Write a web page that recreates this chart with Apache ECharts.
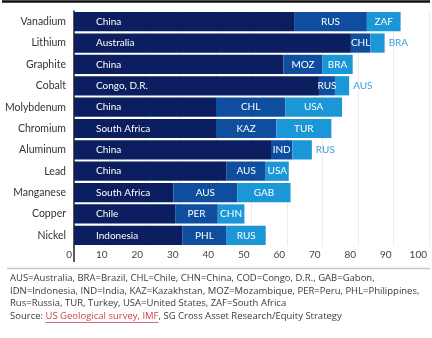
<!DOCTYPE html>
<html>
<head>
<meta charset="utf-8">
<script src="https://cdn.jsdelivr.net/npm/echarts@6/dist/echarts.min.js"></script>
<style>
html,body{margin:0;padding:0;background:#fff;}
#c{width:432px;height:338px;}
</style>
</head>
<body>
<div id="c"></div>
<script>
var categories = ['Vanadium','Lithium','Graphite','Cobalt','Molybdenum','Chromium','Aluminum','Lead','Manganese','Copper','Nickel'];
var topProducer = ['China','Australia','China','Congo, D.R.','China','South Africa','China','China','South Africa','Chile','Indonesia'];
var topShare = [62, 78, 59, 69, 40, 40, 55.5, 43, 28, 28.5, 30.5];
var secondProducer = ['RUS','CHL','MOZ','RUS','CHL','KAZ','IND','AUS','AUS','PER','PHL'];
var secondShare = [20.5, 5.5, 11, 4.5, 19.5, 17, 6, 11, 18, 12, 12.5];
var thirdProducer = ['ZAF','BRA','BRA','AUS','USA','TUR','RUS','USA','GAB','CHN','RUS'];
var thirdShare = [9.5, 4, 8.5, 4, 16, 15.5, 5.5, 6.5, 15, 7.5, 11];
var xTicks = [0,10,20,30,40,50,60,70,80,90,100];
var footLines = [
  'AUS=Australia, BRA=Brazil, CHL=Chile, CHN=China, COD=Congo, D.R., GAB=Gabon,',
  'IDN=Indonesia, IND=India, KAZ=Kazakhstan, MOZ=Mozambique, PER=Peru, PHL=Philippines,',
  'Rus=Russia, TUR, Turkey, USA=United States, ZAF=South Africa'
];
var sourcePre = 'Source: ';
var sourceLink = 'US Geological survey, IMF';
var sourcePost = ', SG Cross Asset Research/Equity Strategy';

var chart = echarts.init(document.getElementById('c'));
var labelFont = 'Lato';
var footFont = '"Open Sans"';
var footSize = 9.5;

function mkData(vals, names, s) {
  return vals.map(function(v, i){
    var item = {value: v, name: names[i]};
    if (s === 3 && v < 6) {
      item.label = {position: 'right', distance: 4, color: '#3a9fdc'};
    }
    return item;
  });
}

var cv = document.createElement('canvas').getContext('2d');
cv.font = footSize + 'px ' + footFont;
var wPre = cv.measureText(sourcePre).width;
var wLink = cv.measureText(sourceLink).width;

var footX = 10, footY0 = 273.5, footLH = 12.5;
var graphics = [
  {type:'line', shape:{x1:2,y1:1.5,x2:430,y2:1.5}, style:{stroke:'#111', lineWidth:2.5}},
  {type:'line', shape:{x1:7,y1:268.5,x2:430,y2:268.5}, style:{stroke:'#c8c8c8', lineWidth:1.5}},
  {type:'line', shape:{x1:74,y1:246,x2:74,y2:262}, style:{stroke:'#222', lineWidth:1.5}}
];
footLines.forEach(function(t, i){
  graphics.push({type:'text', left: footX, top: footY0 + i*footLH,
    style:{text:t, font: footSize+'px '+footFont, fill:'#3a3a3a'}});
});
var sy = footY0 + 3*footLH;
graphics.push({type:'text', left: footX, top: sy, style:{text:sourcePre, font: footSize+'px '+footFont, fill:'#3a3a3a'}});
graphics.push({type:'text', left: footX + wPre, top: sy, style:{text:sourceLink, font: footSize+'px '+footFont, fill:'#c8454f'}});
graphics.push({type:'line', shape:{x1:footX + wPre, y1: sy+11.5, x2: footX + wPre + wLink, y2: sy+11.5}, style:{stroke:'#c8454f', lineWidth:0.8}});
graphics.push({type:'text', left: footX + wPre + wLink, top: sy, style:{text:sourcePost, font: footSize+'px '+footFont, fill:'#3a3a3a'}});

chart.setOption({
  animation: false,
  backgroundColor: '#fff',
  grid: {left: 74, right: 3, top: 11, bottom: 92, containLabel: false},
  xAxis: {
    type: 'value', min: 0, max: 100, interval: 10,
    axisLine: {show: false}, axisTick: {show: false},
    splitLine: {show: true, lineStyle: {color: '#ececec', width: 1}},
    axisLabel: {
      color: '#444', fontSize: 10, fontFamily: labelFont, margin: 4,
      align: 'right', padding: [0, 2, 0, 0],
      formatter: function(v){ return xTicks.indexOf(v) >= 0 ? String(v) : ''; }
    }
  },
  yAxis: {
    type: 'category', data: categories, inverse: true,
    axisLine: {show: true, lineStyle: {color: '#222', width: 1.5}},
    axisTick: {show: false},
    axisLabel: {color: '#333', fontSize: 10.5, fontFamily: labelFont, margin: 8}
  },
  graphic: graphics,
  series: [
    {type: 'bar', stack: 's', barCategoryGap: '10%', data: mkData(topShare, topProducer, 1),
      itemStyle: {color: '#0b1f60'},
      label: {show: true, position: 'insideLeft', distance: 22, color: '#fff', fontSize: 10, fontFamily: labelFont, formatter: '{b}'}},
    {type: 'bar', stack: 's', data: mkData(secondShare, secondProducer, 2),
      itemStyle: {color: '#0f4e9f'},
      label: {show: true, position: 'inside', color: '#fff', fontSize: 10, fontFamily: labelFont, formatter: '{b}'}},
    {type: 'bar', stack: 's', data: mkData(thirdShare, thirdProducer, 3),
      itemStyle: {color: '#1b97d7'},
      label: {show: true, position: 'inside', color: '#fff', fontSize: 10, fontFamily: labelFont, formatter: '{b}'}}
  ]
});
</script>
</body>
</html>
